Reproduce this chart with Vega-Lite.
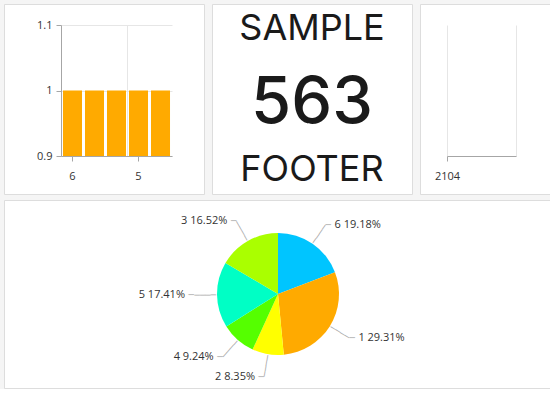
{
  "$schema": "https://vega.github.io/schema/vega-lite/v6.json",
  "background": "#f5f5f5",
  "padding": {"left": 3, "top": 3, "right": 0, "bottom": 0},
  "config": {
    "view": {"fill": "white", "stroke": "#dddddd"},
    "axis": {
      "labelFont": "Open Sans",
      "labelFontSize": 11,
      "labelColor": "#333333",
      "domainColor": "#a6a6a6",
      "tickColor": "#a6a6a6",
      "gridColor": "#e6e6e6",
      "title": null
    }
  },
  "spacing": 4,
  "vconcat": [
    {
      "spacing": 8,
      "bounds": "flush",
      "hconcat": [
        {
          "width": 200,
          "height": 190,
          "data": {"values": [
            {"category": "6", "value": 1},
            {"category": "1", "value": 1},
            {"category": "3", "value": 1},
            {"category": "5", "value": 1},
            {"category": "2", "value": 1}
          ]},
          "layer": [
            {
              "mark": {"type": "bar", "color": "#FFAA00"},
              "encoding": {
                "x": {
                  "field": "category", "type": "nominal", "sort": null,
                  "scale": {"range": [57, 168], "paddingInner": 0.136, "paddingOuter": 0.09},
                  "axis": {"orient": "bottom", "values": ["6", "5"], "offset": -38, "grid": false, "tickSize": 5, "labelPadding": 9, "labelAngle": 0}
                },
                "y": {
                  "field": "value", "type": "quantitative",
                  "scale": {"domain": [0.9, 1.1], "nice": false, "zero": false, "clamp": true, "range": [152, 21]},
                  "axis": {"values": [0.9, 1, 1.1], "format": "~g", "offset": -57, "grid": true, "tickSize": 5, "labelPadding": 4}
                }
              }
            },
            {
              "mark": {"type": "bar", "opacity": 0},
              "encoding": {
                "x": {
                  "field": "category", "type": "nominal", "sort": null,
                  "axis": {"orient": "top", "values": ["5"], "grid": true, "ticks": false, "labels": false, "domain": false, "bandPosition": -0.08}
                },
                "y": {"field": "value", "type": "quantitative"}
              }
            }
          ],
          "resolve": {"axis": {"x": "independent"}}
        },
        {
          "width": 200,
          "height": 190,
          "data": {"values": [{"header": "SAMPLE", "value": 563, "footer": "FOOTER"}]},
          "encoding": {
            "x": {"datum": 0, "type": "quantitative", "scale": {"domain": [-1, 1]}, "axis": null},
            "y": {"datum": 0, "type": "quantitative", "scale": {"domain": [-1, 1]}, "axis": null}
          },
          "layer": [
            {
              "mark": {"type": "text", "font": "Inter", "fontSize": 36, "color": "#1a1a1a", "baseline": "alphabetic", "dy": -59},
              "encoding": {"text": {"field": "header"}}
            },
            {
              "mark": {"type": "text", "font": "Inter", "fontSize": 65, "fontWeight": 500, "color": "#1a1a1a", "baseline": "alphabetic", "dy": 24},
              "encoding": {"text": {"field": "value", "type": "quantitative"}}
            },
            {
              "mark": {"type": "text", "font": "Inter", "fontSize": 36, "color": "#1a1a1a", "baseline": "alphabetic", "dy": 82},
              "encoding": {"text": {"field": "footer"}}
            }
          ]
        },
        {
          "width": 140,
          "height": 190,
          "data": {"values": [{"year": 2104, "value": 0}]},
          "layer": [
            {
              "mark": {"type": "line"},
              "encoding": {
                "x": {
                  "field": "year", "type": "quantitative",
                  "scale": {"domain": [2104, 2105], "range": [27, 96], "nice": false, "zero": false},
                  "axis": {"orient": "bottom", "values": [2104], "format": "d", "grid": false, "offset": -38, "tickSize": 5, "labelPadding": 9, "labelFlush": false}
                },
                "y": {"field": "value", "type": "quantitative", "scale": {"range": [152, 21]}, "axis": null}
              }
            },
            {
              "mark": {"type": "line", "opacity": 0},
              "encoding": {
                "x": {
                  "field": "year", "type": "quantitative",
                  "axis": {"orient": "top", "values": [2104, 2105], "grid": true, "ticks": false, "labels": false, "domain": false}
                },
                "y": {"field": "value", "type": "quantitative"}
              }
            }
          ],
          "resolve": {"axis": {"x": "independent"}}
        }
      ]
    },
    {
      "width": 548,
      "height": 188,
      "view": {"fill": "#ffffff", "fillOpacity": 1, "stroke": "#dddddd"},
      "data": {"values": [
        {"category": "6", "percent": 19.18, "label": "6 19.18%", "idx": 1},
        {"category": "1", "percent": 29.31, "label": "1 29.31%", "idx": 2},
        {"category": "2", "percent": 8.35, "label": "2 8.35%", "idx": 3},
        {"category": "4", "percent": 9.24, "label": "4 9.24%", "idx": 4},
        {"category": "5", "percent": 17.41, "label": "5 17.41%", "idx": 5},
        {"category": "3", "percent": 16.52, "label": "3 16.52%", "idx": 6}
      ]},
      "encoding": {
        "theta": {"field": "percent", "type": "quantitative", "stack": "normalize"},
        "order": {"field": "idx", "type": "quantitative"},
        "color": {
          "field": "category", "type": "nominal",
          "scale": {"domain": ["6", "1", "2", "4", "5", "3"], "range": ["#00C5FF", "#FFAA00", "#FFFF00", "#55FF00", "#00FFC5", "#AAFF00"]},
          "legend": null
        }
      },
      "layer": [
        {
          "mark": {"type": "text", "text": "", "opacity": 0},
          "encoding": {
            "x": {"datum": 0, "type": "quantitative", "scale": {"domain": [-1, 1]}, "axis": null},
            "y": {"datum": 0, "type": "quantitative", "scale": {"domain": [-1, 1]}, "axis": null}
          }
        },
        {"mark": {"type": "arc", "outerRadius": 61}},
        {
          "mark": {
            "type": "text", "radius": 62, "font": "DejaVu Sans Mono", "fontSize": 9, "text": "────",
            "align": "left", "baseline": "middle",
            "angle": {"expr": "(datum.percent_start + datum.percent_end) * 180 - 90"}
          },
          "encoding": {"color": {"value": "#aaaaaa"}, "detail": {"field": "category"}}
        },
        {
          "mark": {
            "type": "text", "radius": 84, "font": "DejaVu Sans Mono", "fontSize": 9, "text": "─",
            "baseline": "middle",
            "align": {"expr": "datum.percent_start + datum.percent_end < 1 ? 'left' : 'right'"}
          },
          "encoding": {"color": {"value": "#aaaaaa"}, "detail": {"field": "category"}}
        },
        {
          "mark": {
            "type": "text", "radius": 84, "font": "Open Sans", "fontSize": 11, "baseline": "middle",
            "align": {"expr": "datum.percent_start + datum.percent_end < 1 ? 'left' : 'right'"},
            "dx": {"expr": "datum.percent_start + datum.percent_end < 1 ? 9 : -9"}
          },
          "encoding": {"text": {"field": "label"}, "color": {"value": "#333333"}, "detail": {"field": "category"}}
        }
      ]
    }
  ]
}
